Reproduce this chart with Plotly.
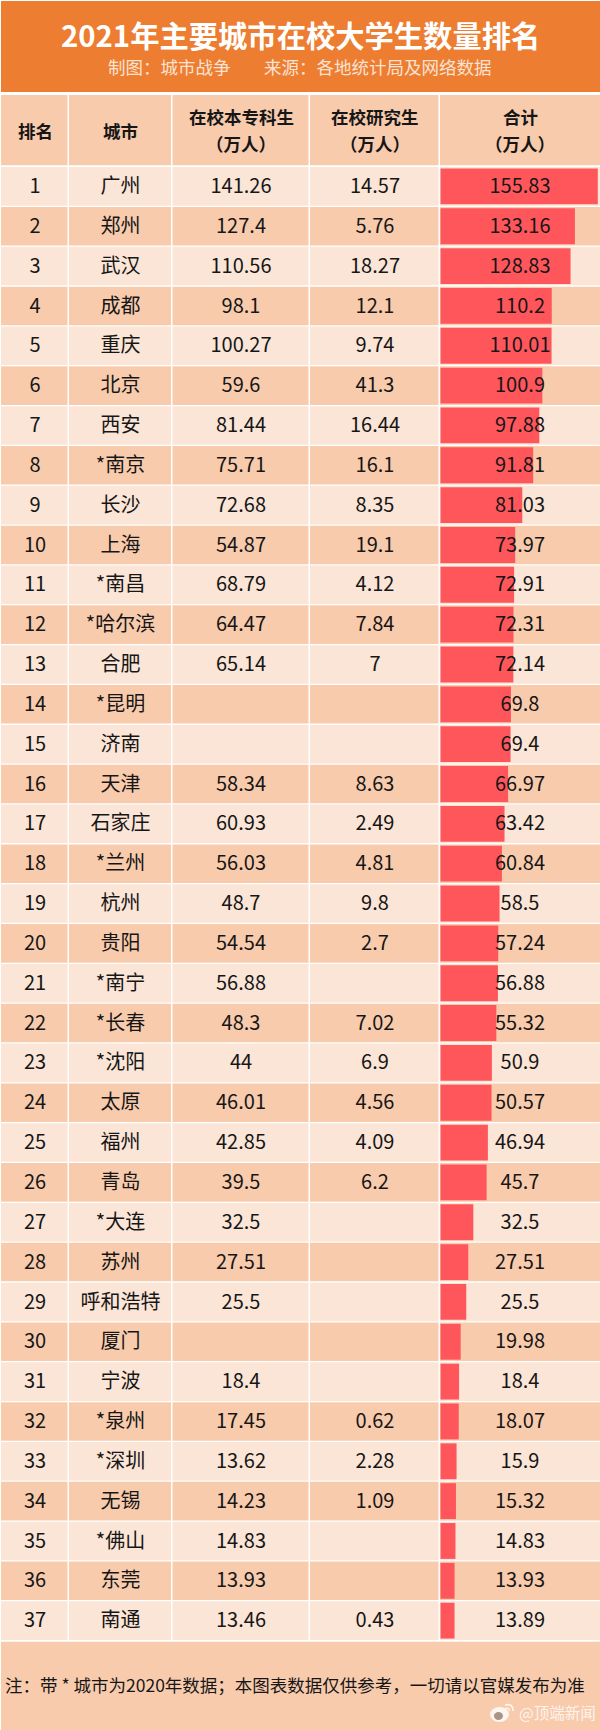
import plotly.graph_objects as go

# ---------- data ----------
ranks = list(range(1, 38))
cities = ["广州", "郑州", "武汉", "成都", "重庆", "北京", "西安", "*南京", "长沙", "上海",
          "*南昌", "*哈尔滨", "合肥", "*昆明", "济南", "天津", "石家庄", "*兰州", "杭州", "贵阳",
          "*南宁", "*长春", "*沈阳", "太原", "福州", "青岛", "*大连", "苏州", "呼和浩特", "厦门",
          "宁波", "*泉州", "*深圳", "无锡", "*佛山", "东莞", "南通"]
undergrad = [141.26, 127.4, 110.56, 98.1, 100.27, 59.6, 81.44, 75.71, 72.68, 54.87,
             68.79, 64.47, 65.14, None, None, 58.34, 60.93, 56.03, 48.7, 54.54,
             56.88, 48.3, 44, 46.01, 42.85, 39.5, 32.5, 27.51, 25.5, None,
             18.4, 17.45, 13.62, 14.23, 14.83, 13.93, 13.46]
postgrad = [14.57, 5.76, 18.27, 12.1, 9.74, 41.3, 16.44, 16.1, 8.35, 19.1,
            4.12, 7.84, 7, None, None, 8.63, 2.49, 4.81, 9.8, 2.7,
            None, 7.02, 6.9, 4.56, 4.09, 6.2, None, None, None, None,
            None, 0.62, 2.28, 1.09, None, None, 0.43]
totals = [155.83, 133.16, 128.83, 110.2, 110.01, 100.9, 97.88, 91.81, 81.03, 73.97,
          72.91, 72.31, 72.14, 69.8, 69.4, 66.97, 63.42, 60.84, 58.5, 57.24,
          56.88, 55.32, 50.9, 50.57, 46.94, 45.7, 32.5, 27.51, 25.5, 19.98,
          18.4, 18.07, 15.9, 15.32, 14.83, 13.93, 13.89]

title = "2021年主要城市在校大学生数量排名"
credit_left = "制图：城市战争"
credit_right = "来源：各地统计局及网络数据"
headers = [["排名"], ["城市"], ["在校本专科生", "（万人）"], ["在校研究生", "（万人）"], ["合计", "（万人）"]]
footnote = "注：带 * 城市为2020年数据；本图表数据仅供参考，一切请以官媒发布为准"
watermark = "@顶端新闻"

# ---------- geometry ----------
W, H = 600, 1730
FONT = "Noto Sans CJK SC"
ORANGE, DARK, LIGHT, RED = "#ED7D31", "#F8CBAD", "#FBE5D6", "#FF565C"
INK = "#161616"
X0_PX, PX_PER_UNIT = 440.5, 1.0095     # zero of the value axis, scale of the value axis
ROW1_PX, ROW_PX = 186.4, 39.84         # centre of row 1, row pitch
TEXT_NUDGE = 1.6 / ROW_PX              # optical centring of the cell text


def vx(px):
    return (px - X0_PX) / PX_PER_UNIT


def py(px):
    return 1 - px / H


col_edges = [(1, 67.5), (69, 171), (172.5, 308.5), (310, 438.5), (440, 600)]
col_centres = [35, 120.5, 241, 375, 520]

shapes = []


def rect(x0, y0, x1, y1, color):
    shapes.append(dict(type="rect", xref="paper", yref="paper", layer="below",
                       x0=x0 / W, x1=x1 / W, y0=py(y0), y1=py(y1),
                       fillcolor=color, line_width=0))


rect(1, 1, 600, 92, ORANGE)
for a, b in col_edges:
    rect(a, 95, b, 165.2, DARK)
rect(1, 1641.7, 600, 1730, DARK)

for r in ranks:
    color = LIGHT if r % 2 else DARK
    for a, b in col_edges:
        shapes.append(dict(type="rect", xref="x", yref="y", layer="below",
                           x0=vx(a), x1=vx(b), y0=r - 0.484, y1=r + 0.484,
                           fillcolor=color, line_width=0))

# weibo logo of the watermark
LOGO = "rgba(255,255,255,0.8)"
shapes += [
    dict(type="circle", xref="paper", yref="paper", x0=490 / W, x1=509 / W, y0=py(1722), y1=py(1707),
         fillcolor=LOGO, line_width=0),
    dict(type="circle", xref="paper", yref="paper", x0=494 / W, x1=503 / W, y0=py(1720), y1=py(1712),
         fillcolor="#A89488", line_width=0),
    dict(type="path", xref="paper", yref="paper",
         path=f"M {505/W},{py(1705)} Q {513/W},{py(1703)} {513/W},{py(1711)}",
         line=dict(color=LOGO, width=1.6)),
    dict(type="path", xref="paper", yref="paper",
         path=f"M {505/W},{py(1708.5)} Q {509.5/W},{py(1707.5)} {509.5/W},{py(1711)}",
         line=dict(color=LOGO, width=1.4)),
]

# ---------- traces ----------
fig = go.Figure()
fig.add_trace(go.Bar(x=totals, y=ranks, orientation="h", width=0.9,
                     marker=dict(color=RED, line_width=0), hoverinfo="skip"))


def fmt(v):
    return "" if v is None else f"{v:g}"


columns = [[str(r) for r in ranks], cities, [fmt(v) for v in undergrad],
           [fmt(v) for v in postgrad], [fmt(v) for v in totals]]
for centre, col in zip(col_centres, columns):
    fig.add_trace(go.Scatter(x=[vx(centre)] * len(ranks), y=[r + TEXT_NUDGE for r in ranks],
                             text=col, mode="text", textposition="middle center",
                             textfont=dict(family=FONT, size=20, color=INK),
                             cliponaxis=False, hoverinfo="skip"))

# ---------- texts ----------
annotations = []


def note(text, cx, cy, size, color, bold=False, anchor="center"):
    annotations.append(dict(text=f"<b>{text}</b>" if bold else text, xref="paper", yref="paper",
                            x=cx / W, y=py(cy), xanchor=anchor, yanchor="middle", showarrow=False,
                            align="center", borderpad=0,
                            font=dict(family=FONT, size=size, color=color)))


note(title, 300, 34, 29.3, "white", bold=True)
note(credit_left, 169, 67, 17.5, "#FBE3D3")
note(credit_right, 378, 67, 17.5, "#FBE3D3")
for centre, lines in zip(col_centres, headers):
    if len(lines) == 1:
        note(lines[0], centre, 130, 17.5, INK, bold=True)
    else:
        note(lines[0], centre, 116.5, 17.5, INK, bold=True)
        note(lines[1], centre, 143, 17.5, INK, bold=True)
note(footnote, 3.5, 1684, 17.5, INK, anchor="left")
note(watermark, 518, 1712, 15.5, "rgba(255,255,255,0.8)", anchor="left")

# ---------- layout ----------
fig.update_layout(
    width=W, height=H, margin=dict(l=0, r=0, t=0, b=0),
    paper_bgcolor="white", plot_bgcolor="rgba(0,0,0,0)", showlegend=False,
    hovermode=False, barmode="overlay", shapes=shapes, annotations=annotations,
    xaxis=dict(range=[vx(0), vx(W)], visible=False, fixedrange=True),
    yaxis=dict(range=[1 + (H - ROW1_PX) / ROW_PX, 1 - ROW1_PX / ROW_PX], visible=False, fixedrange=True),
)

fig.write_html("out.html", config={"displayModeBar": False},
               post_script="document.body.style.margin='0';document.body.style.overflow='hidden';")
